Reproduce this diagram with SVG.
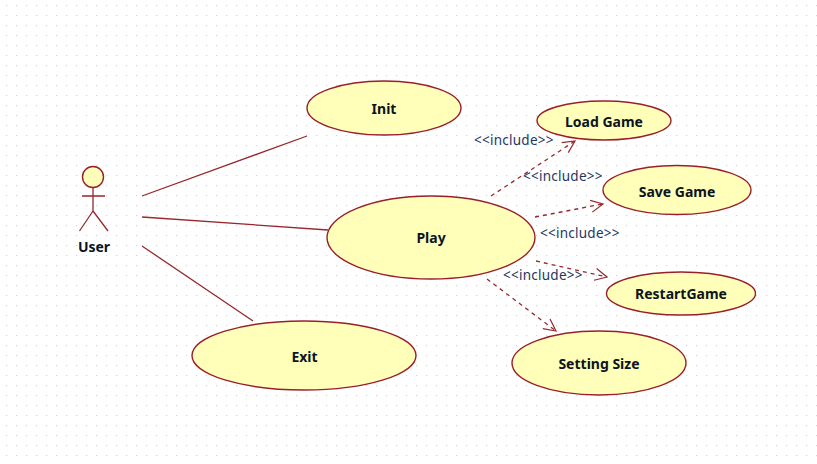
<svg xmlns="http://www.w3.org/2000/svg" width="817" height="464" viewBox="0 0 817 464">
<defs>
<pattern id="grid" x="6" y="5" width="10" height="10" patternUnits="userSpaceOnUse"><rect width="1.2" height="1.2" fill="#d4d4d4"/></pattern>
<marker id="open" markerUnits="userSpaceOnUse" markerWidth="18" markerHeight="18" refX="13" refY="7" orient="auto"><path d="M1 1 L13 7 L1 13" fill="none" stroke="#96282f" stroke-width="1.2"/></marker>
</defs>
<style>
.uc{fill:#ffffb9;stroke:#9a1f2c;stroke-width:1.4}
.lbl{font:bold 14px "Noto Sans","DejaVu Sans",sans-serif;fill:#0c1420;text-anchor:middle}
.inc{font:13.5px "Noto Sans","DejaVu Sans",sans-serif;fill:#24365f;letter-spacing:.25px}
.a{stroke:#96282f;stroke-width:1.3;fill:none}
.d{stroke:#96282f;stroke-width:1.3;fill:none;stroke-dasharray:4 4;marker-end:url(#open)}
</style>
<rect width="817" height="464" fill="#fff"/>
<rect width="817" height="464" fill="url(#grid)"/>
<g id="connectors">
<line class="a" x1="142" y1="196" x2="307" y2="136"/>
<line class="a" x1="142" y1="217" x2="328" y2="230"/>
<line class="a" x1="142" y1="246" x2="253" y2="321"/>
<line class="d" x1="491" y1="196" x2="575" y2="141"/>
<line class="d" x1="535" y1="217" x2="603" y2="204"/>
<line class="d" x1="536" y1="261" x2="607" y2="277"/>
<line class="d" x1="487" y1="279" x2="556" y2="331"/>
<text class="inc" x="474" y="145">&lt;&lt;include&gt;&gt;</text>
<text class="inc" x="523" y="181">&lt;&lt;include&gt;&gt;</text>
<text class="inc" x="540" y="238">&lt;&lt;include&gt;&gt;</text>
<text class="inc" x="503" y="280">&lt;&lt;include&gt;&gt;</text>
</g>
<g id="user">
<circle class="uc" cx="93" cy="177" r="10.5"/>
<path class="a" d="M93 188V211M82 196H105M93 211L79.500 231M93 211L108 231"/>
<text class="lbl" x="94" y="252">User</text>
</g>
<g id="init"><ellipse class="uc" cx="384" cy="108" rx="77" ry="27"/><text class="lbl" x="384" y="114">Init</text></g>
<g id="play"><ellipse class="uc" cx="431" cy="237.500" rx="104" ry="41.500"/><text class="lbl" x="431" y="243">Play</text></g>
<g id="exit"><ellipse class="uc" cx="304" cy="355.500" rx="112" ry="34.500"/><text class="lbl" x="304.500" y="362">Exit</text></g>
<g id="load-game"><ellipse class="uc" cx="604" cy="120.500" rx="67" ry="19.500"/><text class="lbl" x="604" y="127">Load Game</text></g>
<g id="save-game"><ellipse class="uc" cx="677" cy="190" rx="74" ry="24.500"/><text class="lbl" x="677" y="197">Save Game</text></g>
<g id="restart-game"><ellipse class="uc" cx="681" cy="293.500" rx="74.500" ry="21.500"/><text class="lbl" x="681" y="299">RestartGame</text></g>
<g id="setting-size"><ellipse class="uc" cx="599" cy="363" rx="87" ry="32"/><text class="lbl" x="599" y="369">Setting Size</text></g>
</svg>
